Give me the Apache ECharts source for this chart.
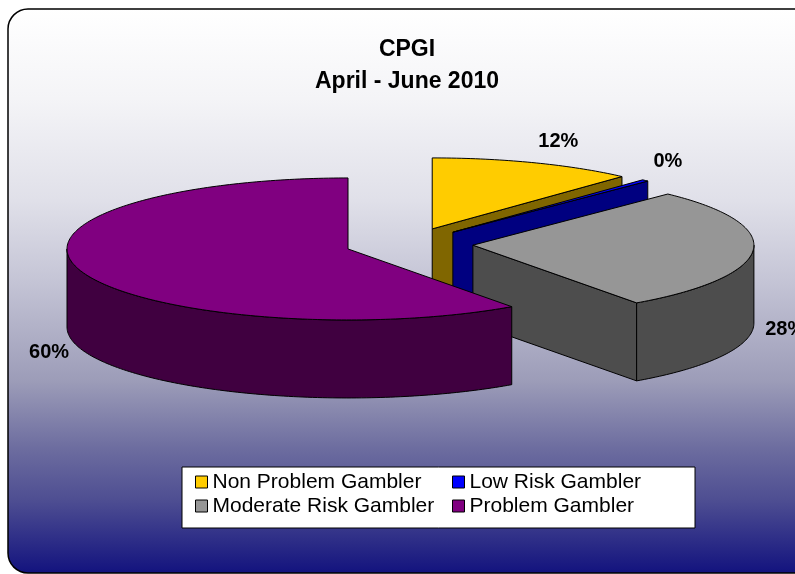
<!DOCTYPE html>
<html>
<head>
<meta charset="utf-8">
<script src="https://cdn.jsdelivr.net/npm/echarts@6/dist/echarts.min.js"></script>
<style>
html, body { margin: 0; padding: 0; background: #fff; }
#main { width: 795px; height: 574px; }
</style>
</head>
<body>
<div id="main"></div>
<script>
var CATEGORIES = ['Non Problem Gambler', 'Low Risk Gambler', 'Moderate Risk Gambler', 'Problem Gambler'];
var VALUES = [11.8, 0.4, 27.9, 59.9];
var TOP_COLORS = ['#FFCC00', '#0000FF', '#969696', '#800080'];
var SIDE_COLORS = ['#806600', '#000080', '#4D4D4D', '#400040'];

var PIE = { cx: 409, cy: 244, rx: 281, ry: 71, depth: 78, explode: 0.228 };
var FONT = '"Liberation Sans", Arial, sans-serif';

var total = 0;
for (var i = 0; i < VALUES.length; i++) total += VALUES[i];

function ellPt(c, a, dy) {
	return [c[0] + PIE.rx * Math.sin(a), c[1] - PIE.ry * Math.cos(a) + (dy || 0)];
}

function arcPts(c, a0, a1, dy) {
	var pts = [];
	var n = Math.max(2, Math.ceil(Math.abs(a1 - a0) / (Math.PI / 180)));
	for (var k = 0; k <= n; k++) {
		pts.push(ellPt(c, a0 + (a1 - a0) * k / n, dy));
	}
	return pts;
}

function poly(points, fill, z2) {
	return {
		type: 'polygon',
		z2: z2,
		shape: { points: points },
		style: { fill: fill, stroke: '#000', lineWidth: 1 }
	};
}

// pseudo 3D exploded pie slice, angles clockwise from 12 o'clock
function renderSlice(params, api) {
	var idx = params.seriesIndex;
	var start = 0;
	for (var j = 0; j < idx; j++) start += VALUES[j];
	var v = api.value(0);
	var a0 = start / total * 2 * Math.PI;
	var a1 = (start + v) / total * 2 * Math.PI;
	var am = (a0 + a1) / 2;
	var c = [PIE.cx + PIE.explode * PIE.rx * Math.sin(am), PIE.cy - PIE.explode * PIE.ry * Math.cos(am)];
	var h = PIE.depth;
	var zs = Math.round(c[1]);
	var side = SIDE_COLORS[idx];
	var children = [];
	var p;

	if (Math.sin(a0) < -1e-6) {
		p = ellPt(c, a0);
		children.push(poly([c, p, [p[0], p[1] + h], [c[0], c[1] + h]], side, zs));
	}
	if (Math.sin(a1) > 1e-6) {
		p = ellPt(c, a1);
		children.push(poly([c, p, [p[0], p[1] + h], [c[0], c[1] + h]], side, zs));
	}
	var s = Math.max(a0, Math.PI / 2), e = Math.min(a1, 3 * Math.PI / 2);
	if (e > s) {
		children.push(poly(arcPts(c, s, e, 0).concat(arcPts(c, e, s, h)), side, zs + 0.5));
	}
	children.push(poly([c].concat(arcPts(c, a0, a1, 0)), TOP_COLORS[idx], 1000));

	// percent label
	var sn = Math.sin(am), cs = Math.cos(am);
	var lp = ellPt(c, am, cs < 0 ? h : 0);
	lp = [lp[0] + 12 * sn, lp[1] - 12 * cs];
	children.push({
		type: 'text',
		z2: 2000,
		x: lp[0],
		y: lp[1],
		style: {
			text: Math.round(v / total * 100) + '%',
			fill: '#000',
			font: 'bold 20px ' + FONT,
			align: sn > 0.3 ? 'left' : (sn < -0.3 ? 'right' : 'center'),
			verticalAlign: cs > 0.5 ? 'bottom' : (cs < -0.5 ? 'top' : 'middle')
		}
	});
	return { type: 'group', children: children };
}

var series = [];
for (var i = 0; i < CATEGORIES.length; i++) {
	series.push({
		name: CATEGORIES[i],
		type: 'custom',
		coordinateSystem: 'none',
		renderItem: renderSlice,
		itemStyle: { color: TOP_COLORS[i] },
		data: [[VALUES[i]]]
	});
}

var legendText = { fontSize: 21, fontFamily: FONT, color: '#000', lineHeight: 24 };

function legendCol(names, left) {
	return {
		data: names,
		orient: 'vertical',
		left: left,
		top: 470,
		padding: 0,
		itemGap: 0,
		itemWidth: 12,
		itemHeight: 12,
		icon: 'rect',
		itemStyle: { borderColor: '#000', borderWidth: 1 },
		textStyle: legendText
	};
}

var option = {
	animation: false,
	title: {
		text: 'CPGI\nApril - June 2010',
		left: 407,
		top: 34,
		textAlign: 'center',
		padding: 0,
		textStyle: { fontSize: 23, fontWeight: 'bold', fontFamily: FONT, color: '#000', lineHeight: 32 }
	},
	graphic: [
		{
			type: 'rect',
			z: 0,
			shape: { x: 8, y: 9, width: 820, height: 564, r: 20 },
			style: {
				stroke: '#000',
				lineWidth: 1.5,
				fill: new echarts.graphic.LinearGradient(0, 0, 0, 1, [
					{ offset: 0, color: '#FFFFFF' },
					{ offset: 0.16, color: '#F4F4F7' },
					{ offset: 0.34, color: '#E0E0E9' },
					{ offset: 0.48, color: '#C5C5D6' },
					{ offset: 0.66, color: '#9C9CB8' },
					{ offset: 0.78, color: '#6C6C9F' },
					{ offset: 0.87, color: '#4E4E92' },
					{ offset: 1, color: '#12127E' }
				])
			}
		},
		{
			type: 'rect',
			z: 3,
			shape: { x: 182, y: 467, width: 513, height: 61 },
			style: { fill: '#fff', stroke: '#000', lineWidth: 1 }
		}
	],
	legend: [
		legendCol([CATEGORIES[0], CATEGORIES[2]], 195),
		legendCol([CATEGORIES[1], CATEGORIES[3]], 452)
	],
	series: series
};

var chart = echarts.init(document.getElementById('main'));
chart.setOption(option);
</script>
</body>
</html>
